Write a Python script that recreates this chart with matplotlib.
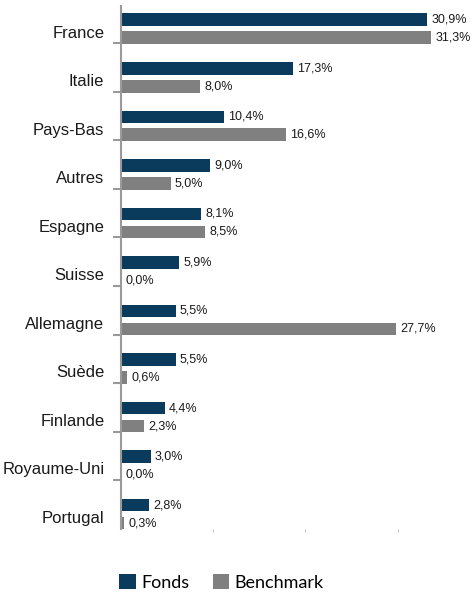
import matplotlib
matplotlib.use("Agg")
import matplotlib.pyplot as plt
import numpy as np

pays = ["France", "Italie", "Pays-Bas", "Autres", "Espagne", "Suisse",
        "Allemagne", "Suède", "Finlande", "Royaume-Uni", "Portugal"]
fonds = [30.9, 17.3, 10.4, 9.0, 8.1, 5.9, 5.5, 5.5, 4.4, 3.0, 2.8]
benchmark = [31.3, 8.0, 16.6, 5.0, 8.5, 0.0, 27.7, 0.6, 2.3, 0.0, 0.3]

navy = "#0b3b5c"
grey = "#808080"

plt.rcParams['font.family'] = ['Liberation Sans', 'DejaVu Sans']

fig = plt.figure(figsize=(4.73, 5.94), dpi=100)
ax = fig.add_axes([0.2558, 0.110, 0.7442, 0.880])

y = np.arange(len(pays))
h = 0.26
b1 = ax.barh(y - 0.185, fonds, height=h, color=navy, label="Fonds")
b2 = ax.barh(y + 0.185, benchmark, height=h, color=grey, label="Benchmark")

for bars, vals in [(b1, fonds), (b2, benchmark)]:
    for bar, v in zip(bars, vals):
        ax.annotate(f"{v:.1f}%".replace(".", ","),
                    (bar.get_width(), bar.get_y() + bar.get_height() / 2),
                    xytext=(3, 0), textcoords="offset points",
                    ha="left", va="center", fontsize=9, color="#1a1a1a")

ax.set_ylim(10.3, -0.47)
ax.set_xlim(0, 35.5)

# category labels at centres, tick marks between groups
ax.set_yticks(y + 0.06)
ax.set_yticklabels(pays, fontsize=12, color="#1a1a1a")
ax.tick_params(axis="y", which="major", length=0, pad=12)
ax.set_yticks(y[:-1] + 0.3, minor=True)
ax.tick_params(axis="y", which="minor", length=6, width=1.5, color="#9a9a9a")

ax.set_xticks([9.3, 18.6, 27.9])
ax.set_xticklabels([])
ax.tick_params(axis="x", length=2, width=0.8, color="#cccccc")

for s in ["top", "right", "bottom"]:
    ax.spines[s].set_visible(False)
ax.spines["left"].set_color("#9a9a9a")
ax.spines["left"].set_linewidth(1.5)

fig.legend(handles=[b1, b2], loc="lower left", bbox_to_anchor=(0.218, -0.022),
           ncol=2, frameon=False, prop={"family": "Lato", "size": 13},
           handlelength=0.9, handleheight=0.9, handletextpad=0.3,
           columnspacing=1.3)

fig.savefig("out.png", dpi=100)
